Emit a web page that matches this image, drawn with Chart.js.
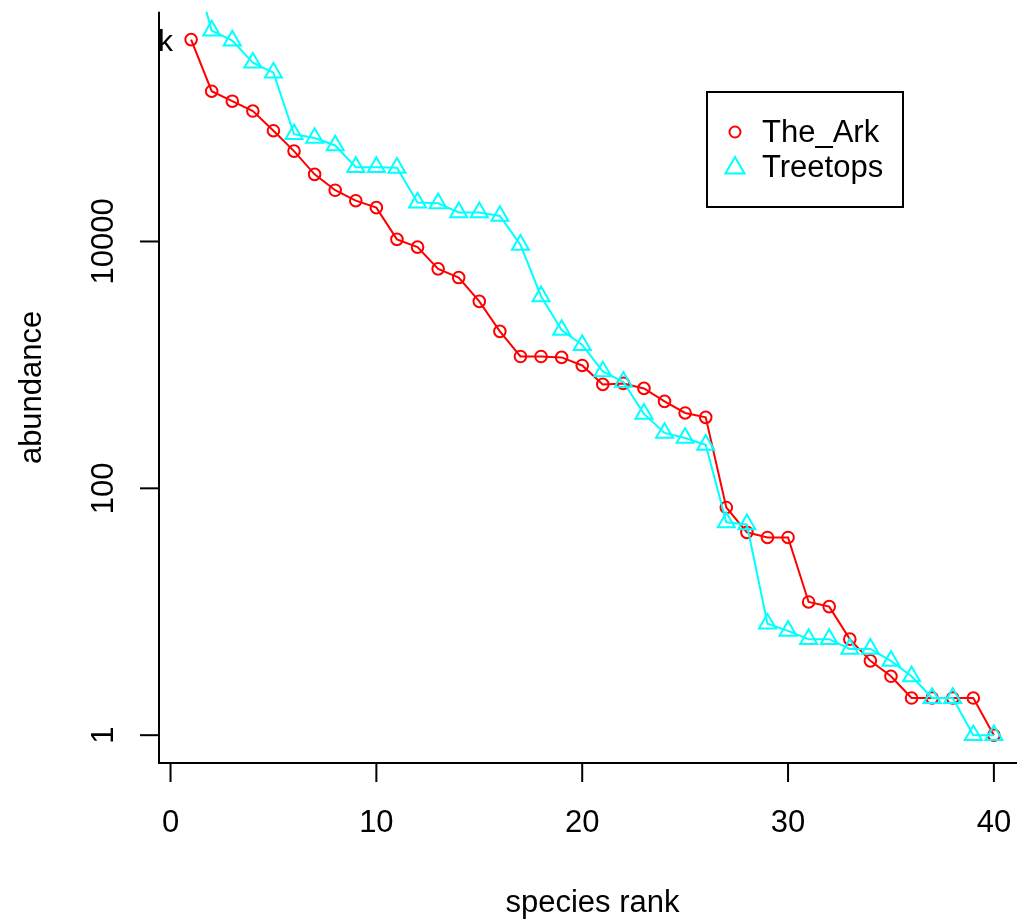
<!DOCTYPE html>
<html>
<head>
<meta charset="utf-8">
<title>rank abundance</title>
<script src="https://cdn.jsdelivr.net/npm/chart.js@4.4.1/dist/chart.umd.min.js"></script>
<style>
html, body { margin: 0; padding: 0; background: #fff; overflow: hidden; }
canvas { display: block; }
</style>
</head>
<body>
<canvas id="rankChart" width="1040" height="920"></canvas>
<script>
"use strict";

// data
const ranks = [1, 2, 3, 4, 5, 6, 7, 8, 9, 10, 11, 12, 13, 14, 15, 16, 17, 18, 19, 20,
	21, 22, 23, 24, 25, 26, 27, 28, 29, 30, 31, 32, 33, 34, 35, 36, 37, 38, 39, 40];
const arkAbundance = [432000, 165000, 137000, 114000, 79000, 54000, 35000, 26000, 21400, 18800,
	10400, 9000, 6000, 5100, 3270, 1870, 1170, 1170, 1150, 990,
	695, 708, 645, 506, 408, 376, 70, 44, 40, 40,
	12, 11, 6, 4, 3, 2, 2, 2, 2, 1];
const treetopsAbundance = [2000000, 511000, 424000, 281000, 233000, 74000, 69000, 60000, 40000, 40000,
	39500, 20700, 20400, 17200, 17200, 16100, 9400, 3600, 1920, 1450,
	885, 728, 401, 281, 256, 225, 53, 51, 8, 7,
	6, 6, 5, 5, 4, 3, 2, 2, 1, 1];
const seriesNames = ["The_Ark", "Treetops"];
const xTicks = [0, 10, 20, 30, 40];
const yTicks = [1, 100, 10000];
const xTitle = "species rank";
const yTitle = "abundance";

const RED = "#FF0000";
const CYAN = "#00FFFF";
const FONT = '31px "Liberation Sans", Arial, sans-serif';

// R style limits: data range plus 4% each side (y from the first series, log space)
const xMin = Math.min(...ranks), xMax = Math.max(...ranks);
const xPad = (xMax - xMin) * 0.04;
const lyMin = Math.log10(Math.min(...arkAbundance)), lyMax = Math.log10(Math.max(...arkAbundance));
const lyPad = (lyMax - lyMin) * 0.04;

function toPoints(values){
	return ranks.map((r, i) => ({ x: r, y: values[i] }));
}

const rAxes = {
	id: "rAxes",
	afterDraw(chart){
		const { ctx, chartArea: area, scales: { x, y } } = chart;
		ctx.save();
		ctx.strokeStyle = "#000";
		ctx.fillStyle = "#000";
		ctx.lineWidth = 2;

		// L shaped box
		ctx.beginPath();
		ctx.moveTo(area.left, area.top);
		ctx.lineTo(area.left, area.bottom);
		ctx.lineTo(area.right, area.bottom);
		ctx.stroke();

		ctx.font = FONT;
		ctx.textBaseline = "alphabetic";
		ctx.textAlign = "center";

		xTicks.forEach(v => {
			const px = x.getPixelForValue(v);
			ctx.beginPath();
			ctx.moveTo(px, area.bottom);
			ctx.lineTo(px, area.bottom + 19);
			ctx.stroke();
			ctx.fillText(String(v), px, area.bottom + 69);
		});

		yTicks.forEach(v => {
			const py = y.getPixelForValue(v);
			ctx.beginPath();
			ctx.moveTo(area.left - 19, py);
			ctx.lineTo(area.left, py);
			ctx.stroke();
			ctx.save();
			ctx.translate(area.left - 46, py);
			ctx.rotate(-Math.PI / 2);
			ctx.fillText(String(v), 0, 0);
			ctx.restore();
		});

		ctx.fillText(xTitle, (area.left + area.right) / 2, 912);
		ctx.save();
		ctx.translate(41, (area.top + area.bottom) / 2);
		ctx.rotate(-Math.PI / 2);
		ctx.fillText(yTitle, 0, 0);
		ctx.restore();

		// label at the top left, clipped by the plot region
		ctx.save();
		ctx.beginPath();
		ctx.rect(area.left, area.top, area.right - area.left, area.bottom - area.top);
		ctx.clip();
		ctx.font = '30px "Liberation Sans", Arial, sans-serif';
		ctx.textAlign = "right";
		ctx.fillText(seriesNames[0], 173, 51);
		ctx.restore();

		// legend box
		const box = { left: 707, top: 92, w: 196, h: 115 };
		ctx.fillStyle = "#fff";
		ctx.fillRect(box.left, box.top, box.w, box.h);
		ctx.strokeStyle = "#000";
		ctx.strokeRect(box.left, box.top, box.w, box.h);

		const rows = [
			{ name: seriesNames[0], color: RED, style: "circle", radius: 5.5, y: 132 },
			{ name: seriesNames[1], color: CYAN, style: "triangle", radius: 11, y: 168 }
		];
		rows.forEach(row => {
			ctx.strokeStyle = row.color;
			ctx.fillStyle = "rgba(0,0,0,0)";
			ctx.lineWidth = 2;
			Chart.helpers.drawPoint(ctx, { pointStyle: row.style, radius: row.radius, rotation: 0, borderWidth: 2 }, 735, row.y);
			ctx.fillStyle = "#000";
			ctx.textAlign = "left";
			ctx.textBaseline = "middle";
			ctx.font = FONT;
			ctx.fillText(row.name, 762, row.y + (row.style === "triangle" ? 0 : 1));
		});

		ctx.restore();
	}
};

const ctx = document.querySelector("#rankChart").getContext("2d");
new Chart(ctx, {
	type: "line",
	data: {
		datasets: [{
			label: seriesNames[0],
			data: toPoints(arkAbundance),
			borderColor: RED,
			borderWidth: 2,
			pointStyle: "circle",
			pointRadius: 5.8,
			pointBorderWidth: 2,
			pointBorderColor: RED,
			pointBackgroundColor: "rgba(0,0,0,0)",
			tension: 0,
			order: 1
		}, {
			label: seriesNames[1],
			data: toPoints(treetopsAbundance),
			borderColor: CYAN,
			borderWidth: 2,
			pointStyle: "triangle",
			pointRadius: 9.8,
			pointBorderWidth: 2,
			pointBorderColor: CYAN,
			pointBackgroundColor: "rgba(0,0,0,0)",
			tension: 0,
			order: 0
		}]
	},
	options: {
		responsive: false,
		devicePixelRatio: 1,
		animation: false,
		layout: {
			padding: { left: 159, top: 10, right: 14, bottom: 157 }
		},
		plugins: {
			legend: { display: false },
			tooltip: { enabled: false }
		},
		scales: {
			x: {
				type: "linear",
				display: false,
				min: xMin - xPad,
				max: xMax + xPad
			},
			y: {
				type: "logarithmic",
				display: false,
				min: Math.pow(10, lyMin - lyPad),
				max: Math.pow(10, lyMax + lyPad)
			}
		}
	},
	plugins: [rAxes]
});
</script>
</body>
</html>
